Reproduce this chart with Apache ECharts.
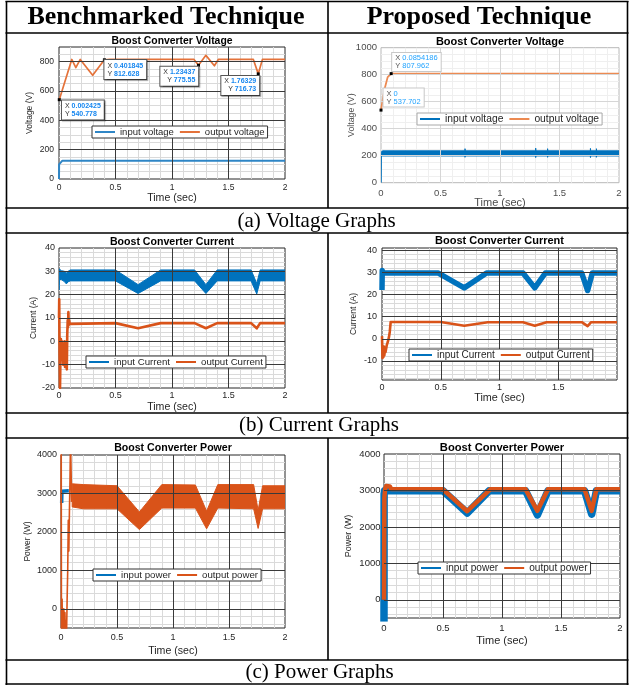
<!DOCTYPE html>
<html>
<head>
<meta charset="utf-8">
<title>Boost converter comparison</title>
<script src="https://cdn.jsdelivr.net/npm/echarts@6.0.0/dist/echarts.min.js"></script>
<style>
html,body{margin:0;padding:0;background:#ffffff;}
#chart{width:629px;height:685px;}
</style>
</head>
<body>
<div id="chart"></div>
<script>
/* ================= data ================= */
const xTicks  = [0, 0.5, 1, 1.5, 2];
const xTicksD = [0, 0.5, 1, 1.5];
const yTicksA = [0, 200, 400, 600, 800];
const yTicksB = [0, 200, 400, 600, 800, 1000];
const yTicksC = [-20, -10, 0, 10, 20, 30, 40];
const yTicksD = [-10, 0, 10, 20, 30, 40];
const yTicksP = [0, 1000, 2000, 3000, 4000];

// (a) benchmarked voltage
const vInA_t  = [0, 0.001, 0.03, 2];
const vInA    = [0, 100, 125, 125];
const vOutA_t = [0.002425, 0.113, 0.149, 0.188, 0.298, 0.401845, 0.45, 1.195, 1.23437, 1.30, 1.375, 1.41, 1.72, 1.76329, 1.80, 2];
const vOutA   = [540.778, 815, 760, 815, 707, 812.628, 815, 815, 775.55, 843, 772, 815, 815, 716.73, 815, 815];
const tipsA   = [[0.002425, 540.778], [0.401845, 812.628], [1.23437, 775.55], [1.76329, 716.73]];

// (a) proposed voltage (input drawn as a ripple envelope)
const vInB_t  = [0, 0.002, 0.012, 0.705, 0.706, 0.708, 1.299, 1.3, 1.302, 1.399, 1.4, 1.402, 1.759, 1.76, 1.762, 1.809, 1.81, 1.812, 2];
const vInB_lo = [0, 192, 198, 198, 188, 198, 198, 186, 198, 198, 188, 198, 198, 186, 198, 198, 188, 198, 198];
const vInB_hi = [0, 226, 236, 236, 252, 236, 236, 256, 236, 236, 252, 236, 236, 254, 236, 236, 252, 236, 236];
const vOutB_t = [0, 0.028, 0.056, 0.0854186, 2];
const vOutB   = [537.702, 686, 782, 807.962, 808];
const tipsB   = [[0.0854186, 807.962], [0, 537.702]];

// (b) benchmarked current (input drawn as a ripple envelope)
const iInC_t  = [0, 0.004, 0.02, 0.05, 0.065, 0.08, 0.1, 0.5, 0.7, 0.9, 1.2, 1.3, 1.4, 1.7, 1.75, 1.78, 2];
const iInC_hi = [31, 31, 30.3, 30, 29.2, 30, 30.6, 30.6, 24.3, 30.6, 30.6, 24.3, 30.6, 30.6, 24.8, 30.6, 30.6];
const iInC_lo = [22, 26.5, 26.5, 25.5, 24.6, 25.5, 25.9, 25.9, 20.5, 25.9, 25.9, 20.5, 25.9, 25.9, 20.3, 25.9, 25.9];
const iOutC_t = [0, 0.002, 0.005, 0.009, 0.013, 0.017, 0.021, 0.025, 0.029, 0.033, 0.037, 0.041, 0.045, 0.049, 0.053, 0.057, 0.061, 0.065, 0.069, 0.073, 0.077, 0.08, 0.083, 0.086, 0.09, 0.095, 0.1, 0.5, 0.7, 0.9, 1.2, 1.3, 1.4, 1.7, 1.75, 1.78, 2];
const iOutC   = [10, 18, -5, -20, -6, 1, -4, 0, -8, -2, -10, -3, -9, 0, -11, -4, -10, -1, -12, 3, 9, 6, 12.5, 7, 9, 7.5, 7.8, 7.8, 5.6, 7.8, 7.8, 5.6, 7.8, 7.8, 5.6, 7.8, 7.8];

// (b) proposed current
const iInD_t  = [0, 0.002, 0.01, 0.48, 0.7, 0.89, 1.2, 1.3, 1.39, 1.7, 1.75, 1.79, 2];
const iInD    = [22, 30.8, 29.7, 29.7, 23, 29.7, 29.7, 23, 29.7, 29.7, 21.8, 29.7, 29.7];
const iOutD_t = [0, 0.004, 0.008, 0.012, 0.016, 0.02, 0.025, 0.03, 0.04, 0.05, 0.06, 0.066, 0.074, 0.09, 0.5, 0.7, 0.9, 1.2, 1.3, 1.4, 1.7, 1.75, 1.78, 2];
const iOutD   = [1.2, -8.7, -4, -8.2, -3.5, -7.5, -4, -6, -3, -1.3, 1, 3.1, 7.6, 8, 7.6, 5.9, 7.5, 7.5, 5.9, 7.5, 7.5, 5.7, 7.5, 7.5];

// (c) benchmarked power (steady-state output drawn as a ripple envelope)
const pInE_t   = [0.006, 0.008, 0.012, 0.07];
const pInE     = [2750, 3060, 3070, 3070];
const pOutE_t  = [0, 0.002, 0.004, 0.008, 0.01, 0.012, 0.016, 0.02, 0.025, 0.03, 0.035, 0.04, 0.045, 0.05, 0.055, 0.06, 0.065, 0.07, 0.075, 0.08, 0.085, 0.09, 0.095, 0.1];
const pOutE    = [2700, 4400, -700, -300, 250, -600, -200, -700, 0, -600, -100, -700, -300, -600, 300, 1000, 2300, 1500, 2500, 3300, 4400, 3600, 2800, 3000];
const pOutEb_t = [0.1, 0.2, 0.5, 0.7, 0.9, 1.2, 1.3, 1.4, 1.72, 1.76, 1.8, 2];
const pOutE_hi = [3250, 3230, 3200, 2520, 3230, 3220, 2540, 3230, 3230, 2560, 3200, 3200];
const pOutE_lo = [2650, 2600, 2600, 2060, 2620, 2620, 2080, 2620, 2600, 2090, 2600, 2600];

// (c) proposed power
const pInF_t  = [0, 0.001, 0.005, 0.5, 0.705, 0.89, 1.2, 1.3, 1.39, 1.7, 1.76, 1.8, 2];
const pInF    = [-600, 2900, 2990, 2990, 2380, 2990, 2990, 2330, 2990, 2990, 2350, 2990, 2990];
const pOutF_t = [0, 0.003, 0.01, 0.02, 0.035, 0.05, 0.06, 0.07, 0.5, 0.705, 0.9, 1.2, 1.3, 1.39, 1.7, 1.76, 1.8, 2];
const pOutF   = [0, 2800, 3050, 3120, 3140, 3110, 3040, 3030, 3030, 2430, 3030, 3030, 2440, 3030, 3030, 2440, 3030, 3030];

/* ================= styling / layout ================= */
const FONT  = "'Liberation Sans', Arial, Helvetica, sans-serif";
const SERIF = "'Liberation Serif', 'Times New Roman', Times, serif";
const BLUE = '#0072BD', ORANGE = '#D95319', BLUE_A = '#2f86c6', ORANGE_A = '#e4723a', ORANGE_B = '#ec8a52';
const THEMES = {
  dark:  {box:'#262626', major:'#3a3a3a', minor:'#dadada', label:'#262626', legendBorder:'#333333'},
  light: {box:'#b8b8b8', major:'#d6d6d6', minor:'#efefef', label:'#4d4d4d', legendBorder:'#a8a8a8'}
};
const zip = (t, v) => t.map((x, i) => [x, v[i]]);
function gridVals(min, max, step) {
  const out = [];
  for (let i = Math.ceil(min / step - 1e-9); i * step < max - 1e-9; i++) {
    const v = +(i * step).toFixed(6);
    if (v > min + 1e-9) out.push(v);
  }
  return out;
}

const tipStyleA = {
  show: true, backgroundColor: '#fff', borderColor: '#555', borderWidth: 1, padding: [1.5, 3],
  fontFamily: FONT, fontSize: 7, lineHeight: 8, color: '#333',
  shadowColor: 'rgba(0,0,0,0.35)', shadowBlur: 1, shadowOffsetX: 1, shadowOffsetY: 1,
  rich: { k: {fontFamily: FONT, fontSize: 7, color: '#333', lineHeight: 8},
          v: {fontFamily: FONT, fontSize: 7, color: '#1787f0', fontWeight: 'bold', lineHeight: 8} }
};
const tipStyleB = {
  show: true, backgroundColor: '#fff', borderColor: '#c8c8c8', borderWidth: 1, padding: [1, 3],
  fontFamily: FONT, fontSize: 7.5, lineHeight: 8, color: '#555',
  rich: { k: {fontFamily: FONT, fontSize: 7.5, color: '#555', lineHeight: 8},
          v: {fontFamily: FONT, fontSize: 7.5, color: '#22a3ff', lineHeight: 8} }
};
const tipText = (x, y) => `{k|X} {v|${x}}\n{k|Y} {v|${y}}`;

const plots = [
  { g:[59,47,226,132], y:[0,900], xLab:xTicks, yLab:yTicksA, yMaj:200, yMin:50, theme:'dark', fs:8.5, xm:4.2, ym:5,
    xng:13.2, yng:24.7, nfs:10.6, ynfs:8.5, yName:'Voltage (V)', title:'Boost Converter Voltage', tfs:10.4, ty:41.5,
    lg:{left:92, top:126, fs:9.5, items:[['input voltage', BLUE_A], ['output voltage', ORANGE_A]]},
    series:[
      {name:'input voltage', t:vInA_t, v:vInA, color:BLUE_A, width:2},
      {name:'output voltage', t:vOutA_t, v:vOutA, color:ORANGE_A, width:1.7,
       tips:{style:tipStyleA, items:[
         [tipsA[0], [4.2, 2.2], 'left', 'top'], [tipsA[1], [1.5, 1.8], 'left', 'top'],
         [tipsA[2], [1.3, 2.9], 'right', 'top'], [tipsA[3], [2.5, 3.6], 'right', 'top']]}}
    ]},
  { g:[381,47.7,238,135], y:[0,1000], xLab:xTicks, yLab:yTicksB, yMaj:200, yMin:50, theme:'light', fs:9.5, xm:5.5, ym:4,
    xng:14.3, yng:24.5, nfs:11, ynfs:8.8, yName:'Voltage (V)', title:'Boost Converter Voltage', tfs:11, ty:42,
    lg:{left:417, top:113, fs:10.3, items:[['input voltage', BLUE], ['output voltage', ORANGE_B]]},
    series:[
      {name:'input voltage', band:true, t:vInB_t, lo:vInB_lo, hi:vInB_hi, color:BLUE},
      {name:'output voltage', t:vOutB_t, v:vOutB, color:ORANGE_B, width:1.8,
       tips:{style:tipStyleB, items:[
         [tipsB[0], [2.5, -1.2], 'left', 'bottom'], [tipsB[1], [4, -2], 'left', 'bottom']]}}
    ]},
  { g:[59,248,226,140], y:[-20,40], xLab:xTicks, yLab:yTicksC, yMaj:10, yMin:2, theme:'dark', fs:9, xm:3.5, ym:4,
    xng:13.4, yng:20.7, nfs:10.6, ynfs:8.5, yName:'Current (A)', title:'Boost Converter Current', tfs:10.6, ty:242,
    lg:{left:86, top:356, fs:9.7, items:[['input Current', BLUE], ['output Current', ORANGE]]},
    series:[
      {name:'input Current', band:true, t:iInC_t, lo:iInC_lo, hi:iInC_hi, color:BLUE},
      {name:'output Current', t:iOutC_t, v:iOutC, color:ORANGE, width:2.6}
    ]},
  { g:[382,248,235,132], y:[-18.6,41], xLab:xTicksD, yLab:yTicksD, yMaj:10, yMin:2, theme:'dark', fs:9, xm:3.2, ym:5,
    xng:12.7, yng:23.7, nfs:10.8, ynfs:8.5, yName:'Current (A)', title:'Boost Converter Current', tfs:11, ty:241.3,
    lg:{left:409, top:349, fs:10, items:[['input Current', BLUE], ['output Current', ORANGE]]},
    series:[
      {name:'input Current', t:iInD_t, v:iInD, color:BLUE, width:5.5},
      {name:'output Current', t:iOutD_t, v:iOutD, color:ORANGE, width:2.6}
    ]},
  { g:[61,455,224,173], y:[-500,4000], xLab:xTicks, yLab:yTicksP, yMaj:1000, yMin:200, theme:'dark', fs:9, xm:5.5, ym:4,
    xng:17.5, yng:29.2, nfs:10.6, ynfs:8.5, yName:'Power (W)', title:'Boost Converter Power', tfs:10.6, ty:448.3,
    lg:{left:93, top:569, fs:9.7, items:[['input power', BLUE], ['output power', ORANGE]]},
    series:[
      {name:'input power', t:pInE_t, v:pInE, color:BLUE, width:3.5},
      {name:'output power', t:pOutE_t, v:pOutE, color:ORANGE, width:1.6},
      {name:'output power', band:true, t:pOutEb_t, lo:pOutE_lo, hi:pOutE_hi, color:ORANGE}
    ]},
  { g:[384,454,236,164], y:[-500,4000], xLab:xTicks, yLab:yTicksP, yMaj:1000, yMin:200, theme:'dark', fs:9.5, xm:5.5, ym:3.5,
    xng:17.3, yng:30.5, nfs:11, ynfs:9, yName:'Power (W)', title:'Boost Converter Power', tfs:11.2, ty:448,
    lg:{left:418, top:562, fs:10.1, items:[['input power', BLUE], ['output power', ORANGE]]},
    series:[
      {name:'input power', t:pInF_t, v:pInF, color:BLUE, width:7.5},
      {name:'output power', t:pOutF_t, v:pOutF, color:ORANGE, width:4.5}
    ]}
];

/* ================= option assembly ================= */
const grid = [], xAxis = [], yAxis = [], series = [], legend = [], graphic = [];
plots.forEach((p, k) => {
  const th = THEMES[p.theme];
  const X = [0, 2];
  grid.push({left:p.g[0], top:p.g[1], width:p.g[2], height:p.g[3], show:true, backgroundColor:'#ffffff',
             borderColor:th.box, borderWidth:1, containLabel:false, outerBoundsMode:'none'});
  const lab = {fontFamily:FONT, fontSize:p.fs, color:th.label, formatter: v => String(v)};
  xAxis.push({type:'value', gridIndex:k, position:'bottom', min:X[0], max:X[1], z:3,
    axisLine:{show:false, onZero:false}, axisTick:{show:false, customValues:gridVals(X[0], X[1], 0.5)},
    axisLabel:Object.assign({}, lab, {customValues:p.xLab, margin:p.xm}),
    splitLine:{show:true, lineStyle:{color:th.major, width:1}},
    name:'Time (sec)', nameLocation:'middle', nameGap:p.xng, nameMoveOverlap:false,
    nameTextStyle:{fontFamily:FONT, fontSize:p.nfs, color:th.label}});
  xAxis.push({type:'value', gridIndex:k, position:'top', min:X[0], max:X[1], z:1,
    axisLine:{show:false, onZero:false}, axisTick:{show:false, customValues:gridVals(X[0], X[1], 0.1)},
    axisLabel:{show:false}, splitLine:{show:true, lineStyle:{color:th.minor, width:1}}});
  yAxis.push({type:'value', gridIndex:k, position:'left', min:p.y[0], max:p.y[1], z:3,
    axisLine:{show:false, onZero:false}, axisTick:{show:false, customValues:gridVals(p.y[0], p.y[1], p.yMaj)},
    axisLabel:Object.assign({}, lab, {customValues:p.yLab, margin:p.ym}),
    splitLine:{show:true, lineStyle:{color:th.major, width:1}},
    name:p.yName, nameLocation:'middle', nameGap:p.yng, nameMoveOverlap:false,
    nameTextStyle:{fontFamily:FONT, fontSize:p.ynfs, color:th.label}});
  yAxis.push({type:'value', gridIndex:k, position:'right', min:p.y[0], max:p.y[1], z:1,
    axisLine:{show:false, onZero:false}, axisTick:{show:false, customValues:gridVals(p.y[0], p.y[1], p.yMin)},
    axisLabel:{show:false}, splitLine:{show:true, lineStyle:{color:th.minor, width:1}}});

  const ax = {xAxisIndex:2 * k, yAxisIndex:2 * k};
  p.series.forEach(s => {
    if (s.band) {
      // ripple envelope: filled polygon between lower and upper envelopes, placed via the axes
      series.push(Object.assign({type:'custom', name:s.name, silent:true, z:2, clip:true,
        data:s.t.map((t, i) => [t, s.lo[i], s.hi[i]]),
        encode:{x:0, y:[1, 2]},
        itemStyle:{color:s.color},
        renderItem:(params, api) => {
          if (params.dataIndex !== 0) return null;
          const pts = [];
          for (let i = 0; i < s.t.length; i++) pts.push(api.coord([s.t[i], s.lo[i]]));
          for (let i = s.t.length - 1; i >= 0; i--) pts.push(api.coord([s.t[i], s.hi[i]]));
          return {type:'polygon', shape:{points:pts}, style:{fill:s.color, stroke:s.color, lineWidth:1, lineJoin:'round'}};
        }}, ax));
    } else {
      const ser = Object.assign({type:'line', name:s.name, data:zip(s.t, s.v), showSymbol:false, symbol:'none',
        silent:true, z:2, lineStyle:{color:s.color, width:s.width, join:'round'}, itemStyle:{color:s.color}}, ax);
      if (s.tips) {
        ser.markPoint = {symbol:'rect', symbolSize:3, itemStyle:{color:'#000'}, silent:true, animation:false, z:8,
          label:s.tips.style,
          data:s.tips.items.map(it => ({coord:it[0],
            label:{position:it[1], align:it[2], verticalAlign:it[3], formatter:tipText(it[0][0], it[0][1])}}))};
      }
      series.push(ser);
    }
  });

  legend.push({left:p.lg.left, top:p.lg.top, orient:'horizontal', itemWidth:20, itemHeight:2, itemGap:6,
    padding:[1, 3], backgroundColor:'#ffffff', borderColor:th.legendBorder, borderWidth:1, borderRadius:0,
    selectedMode:false, z:6,
    textStyle:{fontFamily:FONT, fontSize:p.lg.fs, color:'#262626'},
    data:p.lg.items.map(it => ({name:it[0], icon:'rect', itemStyle:{color:it[1], borderWidth:0}}))});

  graphic.push({type:'text', x:p.g[0] + p.g[2] / 2, y:p.ty, z:10, silent:true,
    style:{text:p.title, fill:'#000', font:'bold ' + p.tfs + 'px ' + FONT, textAlign:'center', textVerticalAlign:'middle'}});
});

/* table frame */
const frameH = [[1.5, 5.5, 628.5], [33, 5.5, 628.5], [208, 5.5, 628.5], [233, 5.5, 628.5], [413, 5.5, 628.5], [438, 5.5, 628.5], [660, 5.5, 628.5], [684, 5.5, 628.5]];
const frameV = [[6.5, 1, 685], [627.5, 1, 685], [328, 1, 208], [328, 233, 413], [328, 438, 660]];
frameH.forEach(l => graphic.push({type:'line', silent:true, z:20, shape:{x1:l[1], y1:l[0], x2:l[2], y2:l[0]}, style:{stroke:'#000', lineWidth:1.6}}));
frameV.forEach(l => graphic.push({type:'line', silent:true, z:20, shape:{x1:l[0], y1:l[1], x2:l[0], y2:l[2]}, style:{stroke:'#000', lineWidth:1.6}}));

const headers = [['Benchmarked Technique', 166, 17.5], ['Proposed Technique', 479, 17.5]];
headers.forEach(h => graphic.push({type:'text', x:h[1], y:h[2], z:20, silent:true,
  style:{text:h[0], fill:'#000', font:'bold 26px ' + SERIF, textAlign:'center', textVerticalAlign:'middle'}}));
const captions = [['(a) Voltage Graphs', 316.5, 221], ['(b) Current Graphs', 319, 425.5], ['(c) Power Graphs', 319.5, 672.5]];
captions.forEach(c => graphic.push({type:'text', x:c[1], y:c[2], z:20, silent:true,
  style:{text:c[0], fill:'#000', font:'21px ' + SERIF, textAlign:'center', textVerticalAlign:'middle'}}));

const chart = echarts.init(document.getElementById('chart'), null, {renderer:'canvas', width:629, height:685});
chart.setOption({
  animation:false,
  backgroundColor:'#ffffff',
  textStyle:{fontFamily:FONT},
  grid, xAxis, yAxis, series, legend, graphic,
  tooltip:{show:false}
});
</script>
</body>
</html>
